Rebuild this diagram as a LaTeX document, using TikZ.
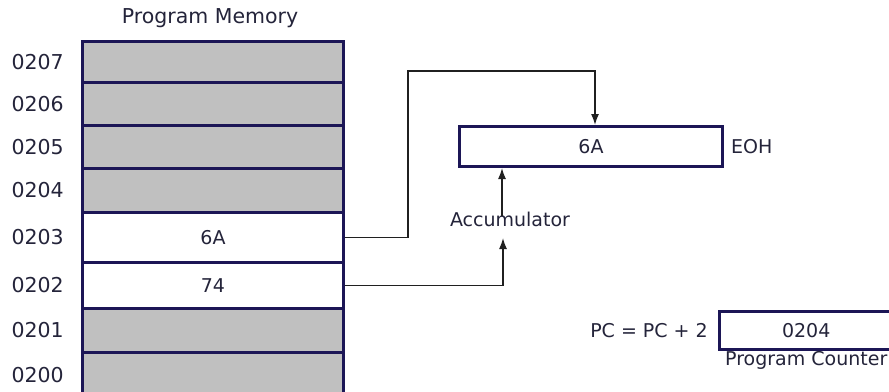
\documentclass[tikz,border=0pt]{standalone}
\usepackage{fontspec}
\setmainfont{DejaVu Sans}
\usetikzlibrary{arrows.meta}

\begin{document}
\begin{tikzpicture}[x=1pt,y=-1pt,font=\fontsize{19}{22}\selectfont]
\definecolor{memBorder}{HTML}{1C1656}
\definecolor{memFill}{HTML}{C0C0C0}
\definecolor{memText}{HTML}{24243A}
\definecolor{memWire}{HTML}{202020}
\tikzset{
	cell/.style={draw=memBorder,line width=3pt,minimum width=261pt,anchor=north west,inner sep=0pt,text=memText},
	regbox/.style={draw=memBorder,fill=white,anchor=north west,inner sep=0pt,text=memText},
	lbl/.style={text=memText,inner sep=0pt},
	bigtext/.style={font=\fontsize{20.5}{24}\selectfont},
	wire/.style={draw=memWire,line width=1.5pt},
	wirearrow/.style={wire,-{Latex[length=11pt,width=8pt]}}
}
\useasboundingbox (0,0) rectangle (889,391);

\node[lbl,bigtext] (memTitle) at (210,18) {Program Memory};
\foreach \addr/\rowtop/\rowbot/\shade/\val in {
	0207/40/81/memFill/,
	0206/81/124/memFill/,
	0205/124/167/memFill/,
	0204/167/211/memFill/,
	0203/211/261/white/6A,
	0202/261/307/white/74,
	0201/307/351/memFill/,
	0200/351/397/memFill/
} {
	\node[cell,fill=\shade,minimum height={(\rowbot-\rowtop)*1pt}] (cell\addr) at (81,\rowtop) {\val};
	\node[lbl,bigtext,anchor=east] (addr\addr) at ([xshift=-17pt]cell\addr.west) {\addr};
}

\node[regbox,line width=3pt,minimum width=263pt,minimum height=40pt] (acc) at (458,125) {6A};
\node[lbl,anchor=west] (eoh) at ([xshift=7pt]acc.east) {EOH};
\node[lbl] (accName) at (510,219) {Accumulator};
\coordinate (bendTop) at (408,71);
\coordinate (accIn) at (503,238);

\draw[wirearrow] (cell0203.east) -| (bendTop) -| ([xshift=4pt]acc.north);
\draw[wirearrow] (cell0202.east) -| (accIn);
\draw[wirearrow] ([xshift=-8pt,yshift=-5pt]accName.north) -- ([xshift=-8pt]accName.north |- acc.south);

\node[regbox,line width=2.5pt,minimum width=174pt,minimum height=38pt] (pc) at (718,310) {0204};
\node[lbl,anchor=east] (pcRule) at ([xshift=-10pt]pc.west) {PC = PC + 2};
\node[lbl,anchor=north] (pcName) at ([yshift=-1pt]pc.south) {Program Counter};
\end{tikzpicture}
\end{document}
